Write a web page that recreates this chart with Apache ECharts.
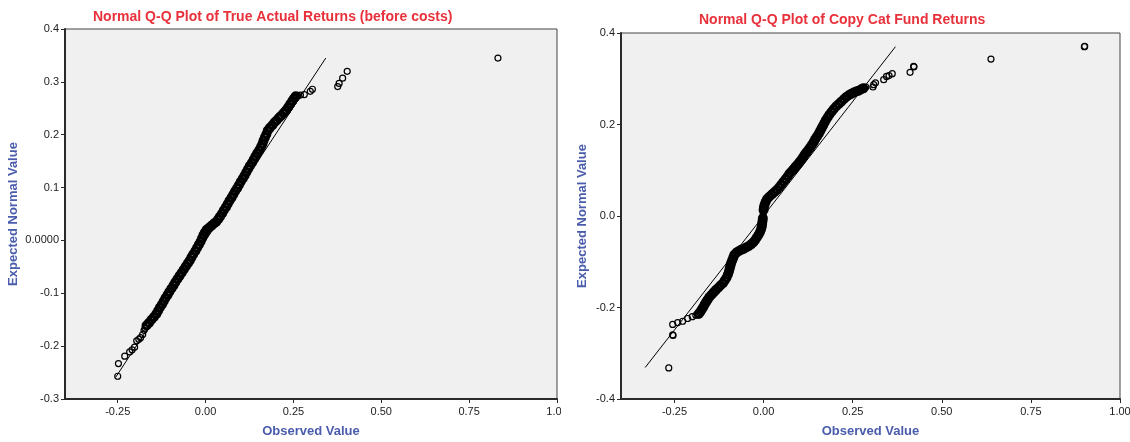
<!DOCTYPE html>
<html>
<head>
<meta charset="utf-8">
<title>Normal Q-Q Plots</title>
<script src="https://cdn.jsdelivr.net/npm/echarts@6/dist/echarts.min.js"></script>
<style>
    html, body { margin: 0; padding: 0; background: #ffffff; }
    #wrap { position: relative; width: 1130px; height: 442px; overflow: hidden; }
    #left { position: absolute; left: 0; top: 0; width: 561px; height: 442px; }
    #right { position: absolute; left: 561px; top: 0; width: 569px; height: 442px; }
</style>
</head>
<body>
<div id="wrap">
    <div id="left"></div>
    <div id="right"></div>
</div>
<script>
// x tick positions shared by both plots
var xTicks = [-0.25, 0, 0.25, 0.5, 0.75, 1.0];

// Left plot: True Actual Returns (before costs) - [observed, expected]
var leftLowTail = [
    [-0.250, -0.257], [-0.248, -0.233], [-0.230, -0.219], [-0.216, -0.211], [-0.209, -0.207],
    [-0.202, -0.202], [-0.196, -0.190], [-0.190, -0.187], [-0.185, -0.184], [-0.179, -0.178],
    [-0.175, -0.170], [-0.172, -0.166]
];
var leftBand = [
    [-0.168, -0.161], [-0.161, -0.156], [-0.154, -0.150], [-0.147, -0.145], [-0.140, -0.139],
    [-0.135, -0.133], [-0.130, -0.127], [-0.124, -0.121], [-0.119, -0.115], [-0.114, -0.109],
    [-0.108, -0.103], [-0.103, -0.097], [-0.097, -0.091], [-0.091, -0.085], [-0.086, -0.079],
    [-0.080, -0.073], [-0.074, -0.067], [-0.068, -0.061], [-0.062, -0.055], [-0.056, -0.049],
    [-0.050, -0.043], [-0.045, -0.038], [-0.040, -0.032], [-0.035, -0.026], [-0.029, -0.020],
    [-0.024, -0.014], [-0.019, -0.008], [-0.014, -0.002], [-0.010, 0.004], [-0.006, 0.010],
    [-0.002, 0.015], [0.003, 0.020], [0.010, 0.024], [0.017, 0.028], [0.024, 0.032],
    [0.030, 0.035], [0.036, 0.040], [0.041, 0.045], [0.047, 0.051], [0.052, 0.057],
    [0.058, 0.063], [0.063, 0.069], [0.068, 0.075], [0.074, 0.081], [0.079, 0.087],
    [0.084, 0.093], [0.090, 0.099], [0.095, 0.105], [0.100, 0.111], [0.106, 0.117],
    [0.111, 0.123], [0.116, 0.129], [0.121, 0.135], [0.126, 0.141], [0.132, 0.147],
    [0.137, 0.153], [0.142, 0.159], [0.147, 0.165], [0.153, 0.171], [0.158, 0.177],
    [0.162, 0.183], [0.165, 0.189], [0.169, 0.195], [0.173, 0.201], [0.177, 0.208],
    [0.183, 0.213], [0.190, 0.218], [0.196, 0.223], [0.202, 0.227], [0.209, 0.232],
    [0.215, 0.236], [0.222, 0.241], [0.229, 0.246], [0.235, 0.252], [0.241, 0.258],
    [0.247, 0.264], [0.252, 0.269], [0.257, 0.273]
];
var leftHighTail = [
    [0.262, 0.274], [0.270, 0.275], [0.281, 0.276], [0.298, 0.282], [0.304, 0.286],
    [0.376, 0.291], [0.380, 0.297], [0.390, 0.307], [0.403, 0.320], [0.832, 0.345]
];
var leftRefLine = [[-0.256, -0.259], [0.342, 0.345]];

// Right plot: Copy Cat Fund Returns - [observed, expected]
var rightLowTail = [
    [-0.266, -0.332], [-0.255, -0.260], [-0.254, -0.261], [-0.255, -0.237], [-0.241, -0.233],
    [-0.227, -0.230], [-0.213, -0.224], [-0.200, -0.220], [-0.190, -0.217]
];
var rightBand = [
    [-0.182, -0.214], [-0.177, -0.209], [-0.173, -0.204], [-0.169, -0.199], [-0.165, -0.193],
    [-0.161, -0.188], [-0.157, -0.183], [-0.152, -0.177], [-0.146, -0.172], [-0.140, -0.167],
    [-0.134, -0.162], [-0.127, -0.157], [-0.121, -0.152], [-0.114, -0.147], [-0.109, -0.141],
    [-0.104, -0.135], [-0.100, -0.128], [-0.097, -0.121], [-0.095, -0.115], [-0.093, -0.109],
    [-0.091, -0.103], [-0.088, -0.097], [-0.085, -0.091], [-0.082, -0.085], [-0.076, -0.080],
    [-0.070, -0.077], [-0.063, -0.074], [-0.056, -0.072], [-0.049, -0.069], [-0.042, -0.066],
    [-0.035, -0.062], [-0.029, -0.058], [-0.024, -0.053], [-0.019, -0.047], [-0.014, -0.041],
    [-0.010, -0.035], [-0.007, -0.029], [-0.005, -0.023], [-0.004, -0.017], [-0.003, -0.011],
    [-0.002, -0.005],
    [0.000, 0.013], [0.001, 0.019], [0.003, 0.025], [0.006, 0.031], [0.010, 0.037],
    [0.016, 0.042], [0.023, 0.047], [0.030, 0.052], [0.037, 0.057], [0.044, 0.063],
    [0.050, 0.069], [0.056, 0.075], [0.062, 0.081], [0.068, 0.087], [0.073, 0.093],
    [0.079, 0.098], [0.085, 0.103], [0.090, 0.108], [0.096, 0.113], [0.101, 0.118],
    [0.106, 0.123], [0.111, 0.129], [0.116, 0.135], [0.121, 0.140], [0.126, 0.145],
    [0.131, 0.150], [0.136, 0.156], [0.141, 0.162], [0.145, 0.168], [0.150, 0.174],
    [0.155, 0.180], [0.159, 0.186], [0.163, 0.192], [0.167, 0.198], [0.171, 0.204],
    [0.175, 0.210], [0.180, 0.216], [0.185, 0.222], [0.191, 0.228], [0.197, 0.234],
    [0.204, 0.240], [0.211, 0.245], [0.218, 0.250], [0.225, 0.255], [0.232, 0.260],
    [0.239, 0.264], [0.246, 0.267], [0.253, 0.270], [0.260, 0.272], [0.267, 0.274],
    [0.274, 0.277], [0.280, 0.279]
];
var rightHighTail = [
    [-0.001, 0.004],
    [0.287, 0.282], [0.307, 0.282], [0.309, 0.287], [0.314, 0.291], [0.337, 0.298],
    [0.345, 0.305], [0.352, 0.307], [0.361, 0.311], [0.411, 0.314], [0.421, 0.327],
    [0.422, 0.326], [0.638, 0.343], [0.900, 0.370], [0.901, 0.371]
];
var rightRefLine = [[-0.332, -0.331], [0.370, 0.370]];

var FONT = '"Liberation Sans", Arial, sans-serif';

function pointSeries(data, size, border) {
    return {
        type: 'scatter',
        data: data,
        symbol: 'circle',
        symbolSize: size,
        itemStyle: { color: 'rgba(0,0,0,0)', borderColor: '#000', borderWidth: border, opacity: 1 },
        z: 2
    };
}

function buildOption(cfg) {
    return {
        animation: false,
        backgroundColor: '#ffffff',
        title: {
            text: cfg.title,
            left: cfg.titleLeft,
            top: cfg.titleTop,
            textStyle: { color: '#e8313b', fontSize: 14, fontWeight: 'bold', fontFamily: FONT }
        },
        grid: {
            left: cfg.grid.left,
            top: cfg.grid.top,
            width: cfg.grid.width,
            height: cfg.grid.height,
            outerBoundsMode: 'none',
            containLabel: false,
            show: true,
            backgroundColor: '#f0f0f0',
            borderColor: '#444',
            borderWidth: 1
        },
        xAxis: {
            type: 'value',
            min: -0.4,
            max: 1.0,
            name: 'Observed Value',
            nameLocation: 'middle',
            nameGap: 26,
            nameMoveOverlap: false,
            nameTextStyle: { color: '#4a5cab', fontSize: 13, fontWeight: 'bold', fontFamily: FONT },
            axisLine: { show: true, onZero: false, lineStyle: { color: '#2a2a2a', width: 2 } },
            axisTick: { show: true, length: 4, customValues: xTicks, lineStyle: { color: '#2a2a2a' } },
            axisLabel: {
                customValues: xTicks,
                margin: 7,
                color: '#222',
                fontSize: 11,
                fontFamily: FONT,
                hideOverlap: false,
                formatter: function (v) { return v.toFixed(2); }
            },
            splitLine: { show: false }
        },
        yAxis: {
            type: 'value',
            min: cfg.yMin,
            max: cfg.yMax,
            interval: cfg.yStep,
            name: 'Expected Normal Value',
            nameLocation: 'middle',
            nameGap: cfg.yNameGap,
            nameMoveOverlap: false,
            nameTextStyle: { color: '#4a5cab', fontSize: 13, fontWeight: 'bold', fontFamily: FONT },
            axisLine: { show: true, onZero: false, lineStyle: { color: '#2a2a2a', width: 2 } },
            axisTick: { show: true, length: 4, lineStyle: { color: '#2a2a2a' } },
            axisLabel: {
                margin: 6,
                color: '#222',
                fontSize: 11,
                fontFamily: FONT,
                formatter: cfg.yFormat
            },
            splitLine: { show: false }
        },
        series: [
            {
                name: 'reference',
                type: 'line',
                data: cfg.refLine,
                symbol: 'none',
                silent: true,
                lineStyle: { color: '#000', width: 1 },
                z: 3
            },
            pointSeries(cfg.lowTail, 6, 1.2),
            pointSeries(cfg.band, 7, 3),
            pointSeries(cfg.highTail, 6, 1.2)
        ]
    };
}

var leftChart = echarts.init(document.getElementById('left'));
leftChart.setOption(buildOption({
    title: 'Normal Q-Q Plot of True Actual Returns (before costs)',
    titleLeft: 88,
    titleTop: 5,
    grid: { left: 65, top: 29, width: 492, height: 370 },
    yMin: -0.3, yMax: 0.4, yStep: 0.1,
    yNameGap: 45,
    yFormat: function (v) {
        if (Math.abs(v) < 1e-9) return '0.0000';
        return v.toFixed(1);
    },
    refLine: leftRefLine,
    lowTail: leftLowTail,
    band: leftBand,
    highTail: leftHighTail
}));

var rightChart = echarts.init(document.getElementById('right'));
rightChart.setOption(buildOption({
    title: 'Normal Q-Q Plot of Copy Cat Fund Returns',
    titleLeft: 133,
    titleTop: 8,
    grid: { left: 60, top: 33, width: 499, height: 366 },
    yMin: -0.4, yMax: 0.4, yStep: 0.2,
    yNameGap: 32,
    yFormat: function (v) { return v.toFixed(1); },
    refLine: rightRefLine,
    lowTail: rightLowTail,
    band: rightBand,
    highTail: rightHighTail
}));
</script>
</body>
</html>
